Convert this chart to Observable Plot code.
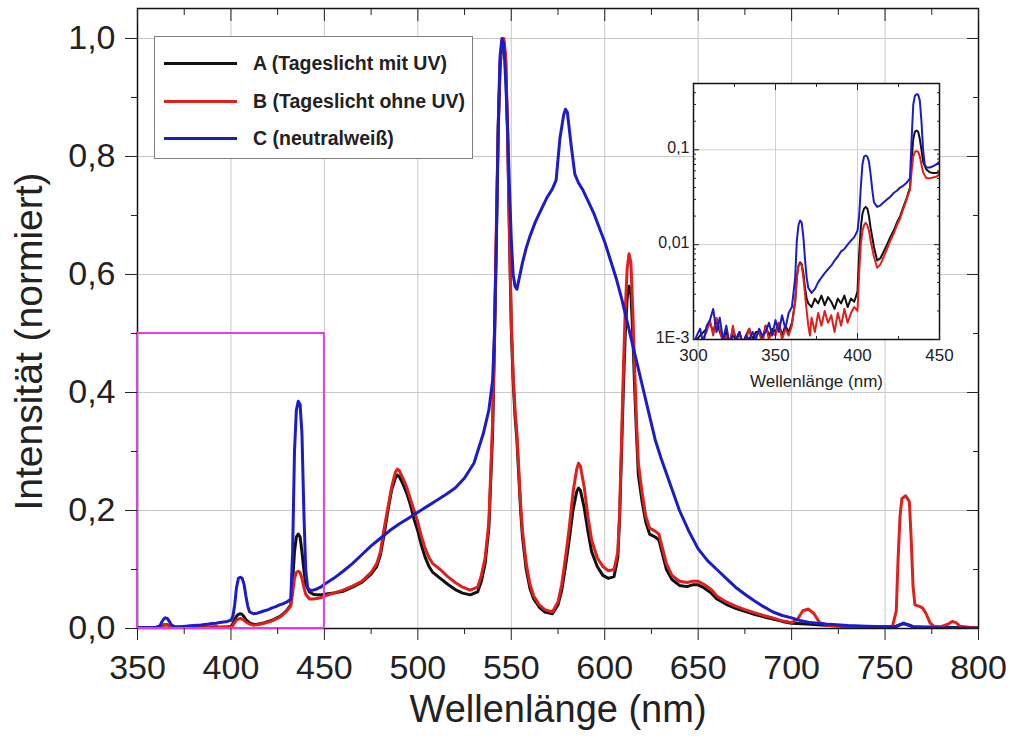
<!DOCTYPE html>
<html><head><meta charset="utf-8">
<script src="https://cdn.jsdelivr.net/npm/d3@7"></script>
<script src="https://cdn.jsdelivr.net/npm/@observablehq/plot@0.6"></script>
<style>
body{margin:0;background:#fff;}
#wrap{position:relative;width:1010px;height:740px;font-family:"Liberation Sans",Arial,sans-serif;}
#inset{position:absolute;left:633px;top:70px;}
#legend{position:absolute;left:154px;top:36px;width:317px;height:121px;border:1.5px solid #808080;background:#fff;}
.sw{position:absolute;left:9px;width:73px;height:3px;}
.lab{position:absolute;left:98px;font-size:19.5px;line-height:22px;font-weight:bold;color:#222;white-space:nowrap;}
</style></head>
<body>
<div id="wrap">
  <div id="main"></div>
  <div id="inset"></div>
  <div id="legend"></div>
</div>
<script>
// ---------- data ----------
const seriesNames = ["A (Tageslicht mit UV)", "B (Tageslicht ohne UV)", "C (neutralweiß)"];
const seriesColors = ["#111111", "#e0201c", "#1c1cc8"];

const wlA = [300,304,308,310,312,314,316,318,320,322,324,326,328,330,332,334,336,338,340,342,344,346,348,350,352,354,356,358,360,362,363,364,365,366,367,368,369,370,372,374,376,378,380,382,384,386,388,390,392,394,396,398,400,401,402,403,404,405,406,407,408,410,412,414,416,418,420,422,424,426,428,430,432,433,434,435,436,437,438,439,440,442,444,446,448,450,455,460,465,470,475,478,480,482,484,486,488,489,490,492,494,496,498,500,502,504,506,508,512,516,520,524,528,532,534,536,538,540,541,542,543,544,545,546,547,548,549,550,551,552,553,554,555,556,558,560,562,565,568,572,575,577,579,581,583,585,586,587,589,591,593,596,599,602,605,607,608,609,610,611,612,613,614,615,616,617,618,620,622,624,627,629,631,633,636,640,644,647,650,653,657,660,665,670,675,680,685,690,695,700,705,710,720,730,740,750,756,759,762,765,780,800];
const valA = [0.0009,0.0011,0.0013,0.0015,0.0012,0.0016,0.0012,0.001,0.0012,0.0009,0.0013,0.001,0.0012,0.0009,0.0011,0.0013,0.001,0.0012,0.0012,0.001,0.0014,0.0011,0.0013,0.0012,0.0015,0.0011,0.0014,0.0012,0.0015,0.0025,0.0045,0.006,0.0065,0.0062,0.005,0.0035,0.0027,0.0024,0.0022,0.0027,0.0024,0.0029,0.0023,0.0028,0.0025,0.0021,0.0027,0.0024,0.0029,0.0022,0.0027,0.0025,0.0032,0.008,0.015,0.021,0.024,0.025,0.024,0.02,0.015,0.0095,0.0068,0.0072,0.0085,0.01,0.012,0.014,0.017,0.02,0.025,0.031,0.04,0.08,0.13,0.155,0.16,0.155,0.13,0.1,0.075,0.062,0.058,0.057,0.057,0.058,0.06,0.063,0.07,0.078,0.092,0.105,0.125,0.16,0.2,0.235,0.255,0.26,0.258,0.245,0.23,0.21,0.185,0.165,0.14,0.12,0.105,0.095,0.085,0.075,0.066,0.06,0.057,0.062,0.08,0.11,0.17,0.33,0.48,0.66,0.84,0.95,0.99,0.995,0.96,0.84,0.67,0.51,0.42,0.36,0.32,0.26,0.2,0.155,0.1,0.068,0.05,0.036,0.028,0.025,0.04,0.065,0.105,0.15,0.2,0.232,0.238,0.234,0.205,0.165,0.13,0.105,0.09,0.085,0.088,0.12,0.19,0.3,0.41,0.5,0.56,0.58,0.57,0.5,0.41,0.33,0.26,0.215,0.18,0.16,0.155,0.15,0.125,0.1,0.083,0.073,0.071,0.074,0.074,0.069,0.06,0.05,0.041,0.034,0.029,0.024,0.02,0.016,0.012,0.009,0.008,0.007,0.005,0.004,0.003,0.003,0.004,0.008,0.007,0.003,0.002,0.001];

const wlB = [300,304,308,310,312,314,316,318,320,322,324,326,328,330,332,334,336,338,340,342,344,346,348,350,352,354,356,358,360,362,363,364,365,366,367,368,369,370,371,372,374,376,378,380,382,384,386,388,390,392,394,396,398,400,401,402,403,404,405,406,407,408,410,412,414,416,418,420,422,424,426,428,430,432,433,434,435,436,437,438,439,440,442,444,446,448,450,455,460,465,470,475,478,480,482,484,486,488,489,490,492,494,496,498,500,502,504,506,508,512,516,520,524,528,532,534,536,538,540,541,542,543,544,545,546,547,548,549,550,551,552,553,554,555,556,558,560,562,565,568,572,575,577,579,581,583,585,586,587,589,591,593,596,599,602,605,607,608,609,610,611,612,613,614,615,616,617,618,620,622,624,627,629,631,633,636,640,644,647,650,653,657,660,665,670,675,680,685,690,695,700,703,706,709,712,715,720,730,740,750,754,756,757,758,759,761,763,764,765,766,768,770,772,774,776,780,784,786,788,790,795,800];
const valB = [0.0008,0.0009,0.0012,0.0016,0.0011,0.0017,0.0013,0.0009,0.0011,0.0008,0.0014,0.0009,0.0012,0.0008,0.001,0.0013,0.0009,0.0011,0.0012,0.0009,0.0014,0.001,0.0012,0.0011,0.0015,0.001,0.0013,0.0011,0.0014,0.0025,0.0045,0.006,0.0063,0.006,0.0045,0.003,0.002,0.0014,0.0011,0.0017,0.0012,0.0019,0.0014,0.002,0.0015,0.0018,0.0012,0.0019,0.0014,0.0021,0.0015,0.0019,0.0022,0.002,0.005,0.01,0.014,0.016,0.017,0.016,0.014,0.011,0.0075,0.0057,0.0062,0.0075,0.009,0.011,0.013,0.016,0.019,0.024,0.03,0.038,0.06,0.085,0.095,0.097,0.095,0.085,0.07,0.058,0.05,0.05,0.051,0.052,0.055,0.06,0.065,0.072,0.08,0.095,0.11,0.13,0.17,0.205,0.24,0.265,0.27,0.268,0.255,0.24,0.22,0.2,0.18,0.155,0.135,0.12,0.11,0.1,0.088,0.078,0.07,0.065,0.07,0.09,0.12,0.18,0.35,0.5,0.68,0.85,0.96,0.995,1.0,0.97,0.85,0.68,0.52,0.43,0.37,0.33,0.27,0.21,0.165,0.11,0.075,0.055,0.04,0.032,0.028,0.045,0.075,0.12,0.17,0.23,0.27,0.28,0.275,0.24,0.19,0.15,0.12,0.105,0.098,0.1,0.13,0.2,0.32,0.44,0.54,0.61,0.635,0.62,0.54,0.44,0.35,0.28,0.23,0.19,0.17,0.165,0.16,0.135,0.11,0.09,0.08,0.078,0.08,0.08,0.075,0.066,0.055,0.045,0.038,0.032,0.027,0.022,0.018,0.013,0.01,0.015,0.03,0.033,0.025,0.01,0.005,0.003,0.003,0.003,0.004,0.03,0.12,0.19,0.22,0.225,0.215,0.15,0.07,0.04,0.038,0.035,0.025,0.01,0.004,0.003,0.008,0.012,0.01,0.004,0.002,0.001];

const wlC = [300,302,304,306,308,310,312,314,316,318,320,322,324,326,328,330,332,334,336,338,340,342,344,346,348,350,352,354,356,358,360,362,363,364,365,366,367,368,369,370,372,374,376,378,380,382,384,386,388,390,392,394,396,398,400,401,402,403,404,405,406,407,408,409,410,412,414,416,418,420,422,424,426,428,430,432,433,434,435,436,437,438,439,440,441,442,444,446,448,450,455,460,465,470,475,480,485,490,495,500,505,510,515,520,525,530,535,538,540,541,542,543,544,545,546,547,548,549,550,551,552,553,554,556,558,560,563,566,569,572,574,576,578,579,580,582,584,586,588,591,594,597,600,603,606,609,612,615,618,621,624,627,630,635,640,645,650,655,660,665,670,675,680,685,690,695,700,705,710,720,730,740,750,756,758,760,762,765,770,780,790,800];
const valC = [0.0009,0.0011,0.0013,0.0009,0.0014,0.0016,0.0021,0.0012,0.0017,0.001,0.0014,0.0009,0.0011,0.001,0.0012,0.0009,0.0011,0.001,0.0012,0.001,0.0013,0.0011,0.0012,0.0015,0.0011,0.0016,0.0012,0.0018,0.0013,0.0019,0.0022,0.0045,0.011,0.016,0.018,0.017,0.012,0.007,0.0045,0.0035,0.0031,0.0034,0.004,0.0045,0.005,0.0055,0.006,0.0068,0.0075,0.0085,0.009,0.01,0.011,0.012,0.014,0.02,0.04,0.07,0.085,0.087,0.085,0.075,0.055,0.038,0.028,0.025,0.026,0.028,0.03,0.032,0.035,0.037,0.04,0.042,0.045,0.05,0.13,0.3,0.37,0.385,0.38,0.33,0.2,0.1,0.07,0.065,0.065,0.067,0.07,0.075,0.085,0.097,0.11,0.125,0.14,0.153,0.166,0.177,0.187,0.197,0.207,0.217,0.227,0.238,0.255,0.28,0.33,0.37,0.42,0.5,0.65,0.85,0.97,1.0,0.99,0.93,0.85,0.75,0.66,0.6,0.58,0.575,0.59,0.62,0.645,0.665,0.69,0.71,0.73,0.745,0.76,0.83,0.87,0.88,0.875,0.82,0.77,0.755,0.745,0.725,0.705,0.68,0.655,0.625,0.595,0.56,0.52,0.48,0.44,0.4,0.36,0.32,0.29,0.245,0.2,0.165,0.135,0.115,0.1,0.085,0.07,0.058,0.047,0.037,0.028,0.022,0.018,0.013,0.01,0.007,0.005,0.004,0.003,0.003,0.006,0.009,0.006,0.003,0.002,0.001,0.0008,0.0005];

// axis ticks
const xMajor = [350,400,450,500,550,600,650,700,750,800];
const xMinor = [375,425,475,525,575,625,675,725,775];
const yMajor = [0,0.2,0.4,0.6,0.8,1.0];
const yMinor = [0.1,0.3,0.5,0.7,0.9];
const zoomBoxX = [350, 450];
const zoomBoxY = [0, 0.5];

const insetXMajor = [300,350,400,450];
const insetXMinor = [325,375,425];
const insetYMajor = [0.001,0.01,0.1];
const insetYLabels = ["1E-3","0,01","0,1"];
const insetYMinor = [0.002,0.003,0.004,0.005,0.006,0.007,0.008,0.009,0.02,0.03,0.04,0.05,0.06,0.07,0.08,0.09,0.2,0.3,0.4];

const xTitle = "Wellenlänge (nm)";
const yTitle = "Intensität (normiert)";

// ---------- build ----------
const rows = [];
[[wlA,valA],[wlB,valB],[wlC,valC]].forEach(([w,v],i) => {
  w.forEach((x,j) => rows.push({series: seriesNames[i], wl: x, v: v[j]}));
});
const colorScale = {domain: seriesNames, range: seriesColors};
const fmt = d => d.toFixed(1).replace(".", ",");
const FONT = "'Liberation Sans', Arial, sans-serif";

const main = Plot.plot({
  width: 1010, height: 740,
  marginLeft: 137, marginRight: 32, marginTop: 8, marginBottom: 112,
  style: {fontFamily: FONT, background: "white", color: "#222"},
  x: {domain: [350, 800]},
  y: {domain: [0, 1.0508]},
  color: colorScale,
  marks: [
    Plot.gridX(xMajor, {stroke: "#c8c8c8", strokeOpacity: 1}),
    Plot.gridY(yMajor, {stroke: "#c8c8c8", strokeOpacity: 1}),
    Plot.line(rows, {x: "wl", y: "v", z: "series", stroke: "series", strokeWidth: 3, clip: true, strokeLinejoin: "round"}),
    Plot.frame({stroke: "#111", strokeWidth: 1.5}),
    Plot.rect([0], {x1: zoomBoxX[0], x2: zoomBoxX[1], y1: zoomBoxY[0], y2: zoomBoxY[1], fill: "none", stroke: "#e040e0", strokeWidth: 2}),
    Plot.axisX(xMajor, {tickSize: 12, tickPadding: 14, fontSize: 34, label: null, tickFormat: d => d}),
    Plot.axisX(xMinor, {tickSize: 6, tickFormat: () => "", label: null}),
    Plot.axisX(xMajor, {anchor: "top", tickSize: 12, dy: 12, tickFormat: () => "", label: null}),
    Plot.axisX(xMinor, {anchor: "top", tickSize: 6, dy: 6, tickFormat: () => "", label: null}),
    Plot.axisY(yMajor, {tickSize: 12, tickPadding: 10, fontSize: 34, label: null, tickFormat: fmt}),
    Plot.axisY(yMinor, {tickSize: 6, tickFormat: () => "", label: null}),
    Plot.axisY(yMajor, {anchor: "right", tickSize: 12, dx: -12, tickFormat: () => "", label: null}),
    Plot.axisY(yMinor, {anchor: "right", tickSize: 6, dx: -6, tickFormat: () => "", label: null}),
    Plot.text([xTitle], {frameAnchor: "bottom", textAnchor: "middle", dy: 93, fontSize: 38, fill: "#222"}),
    Plot.text([yTitle], {frameAnchor: "left", textAnchor: "middle", rotate: -90, dx: -108, dy: 23, fontSize: 39, fill: "#222"})
  ]
});
document.getElementById("main").append(main);

const inset = Plot.plot({
  width: 330, height: 330,
  marginLeft: 60, marginRight: 24, marginTop: 13, marginBottom: 61,
  style: {fontFamily: FONT, background: "transparent", color: "#222"},
  x: {domain: [300, 450]},
  y: {type: "log", domain: [0.001, 0.5]},
  color: colorScale,
  marks: [
    Plot.frame({fill: "white"}),
    Plot.gridX([350, 400], {stroke: "#d0d0d0", strokeOpacity: 1}),
    Plot.gridY([0.01, 0.1], {stroke: "#d0d0d0", strokeOpacity: 1}),
    Plot.line(rows.filter(d => d.wl <= 450), {x: "wl", y: "v", z: "series", stroke: "series", strokeWidth: 2, clip: true, strokeLinejoin: "round"}),
    Plot.frame({stroke: "#111", strokeWidth: 1.5}),
    Plot.axisX(insetXMajor, {tickSize: 6, dy: -6, tickFormat: () => "", label: null}),
    Plot.axisX(insetXMinor, {tickSize: 3, dy: -3, tickFormat: () => "", label: null}),
    Plot.axisX(insetXMajor, {tickSize: 0, tickPadding: 9, fontSize: 17, label: null, tickFormat: d => String(d)}),
    Plot.axisX(insetXMajor, {anchor: "top", tickSize: 6, dy: 6, tickFormat: () => "", label: null}),
    Plot.axisX(insetXMinor, {anchor: "top", tickSize: 3, dy: 3, tickFormat: () => "", label: null}),
    Plot.axisY(insetYMajor, {tickSize: 6, dx: 6, tickFormat: () => "", label: null}),
    Plot.axisY(insetYMinor, {tickSize: 3, dx: 3, tickFormat: () => "", label: null}),
    Plot.axisY(insetYMajor, {tickSize: 0, tickPadding: 4, fontSize: 16, dy: -2, label: null, tickFormat: d => insetYLabels[insetYMajor.indexOf(d)]}),
    Plot.axisY(insetYMajor, {anchor: "right", tickSize: 6, dx: -6, tickFormat: () => "", label: null}),
    Plot.axisY(insetYMinor, {anchor: "right", tickSize: 3, dx: -3, tickFormat: () => "", label: null}),
    Plot.text([xTitle], {frameAnchor: "bottom", textAnchor: "middle", dy: 47, fontSize: 17, fill: "#222"})
  ]
});
document.getElementById("inset").append(inset);

// legend
const leg = document.getElementById("legend");
const centers = [26, 64, 101];
seriesNames.forEach((name, i) => {
  const sw = document.createElement("div");
  sw.className = "sw";
  sw.style.top = (centers[i] - 1.5) + "px";
  sw.style.background = seriesColors[i];
  leg.append(sw);
  const lab = document.createElement("div");
  lab.className = "lab";
  lab.style.top = (centers[i] - 11) + "px";
  lab.textContent = name;
  leg.append(lab);
});
</script>
</body></html>
